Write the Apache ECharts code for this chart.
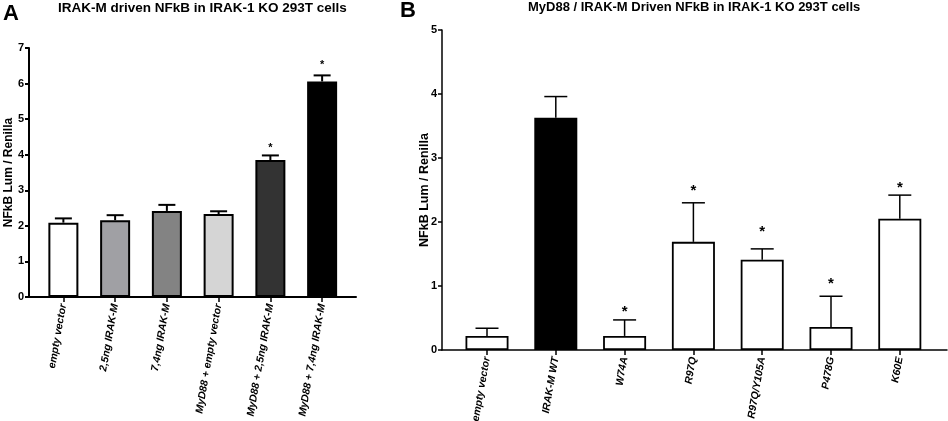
<!DOCTYPE html>
<html><head><meta charset="utf-8">
<script src="https://cdn.jsdelivr.net/npm/echarts@6/dist/echarts.min.js"></script>
<style>html,body{margin:0;padding:0;background:#fff}#c{width:948px;height:421px}</style>
</head><body><div id="c"></div>
<script>
// Panel A data
const catsA = ['empty vector', '2,5ng IRAK-M', '7,4ng IRAK-M', 'MyD88 + empty vector', 'MyD88 + 2,5ng IRAK-M', 'MyD88 + 7,4ng IRAK-M'];
const meanA = [2.09, 2.16, 2.42, 2.33, 3.85, 6.06];
const errTopA = [2.21, 2.30, 2.59, 2.41, 3.98, 6.23];
const starA = [null, null, null, null, 4.25, 6.60];
const colorA = ['#ffffff', '#a0a0a4', '#838383', '#d5d5d5', '#333333', '#000000'];
const yMaxA = 7;
// Panel B data
const catsB = ['empty vector', 'IRAK-M WT', 'W74A', 'R97Q', 'R97Q/Y105A', 'P478G', 'K60E'];
const meanB = [0.22, 3.63, 0.22, 1.69, 1.41, 0.36, 2.05];
const errTopB = [0.34, 3.96, 0.47, 2.30, 1.58, 0.84, 2.42];
const starB = [null, null, 0.65, 2.54, 1.90, 1.09, 2.59];
const colorB = ['#ffffff', '#000000', '#ffffff', '#ffffff', '#ffffff', '#ffffff', '#ffffff'];
const yMaxB = 5;

const FF = 'Liberation Sans, Arial, Helvetica, sans-serif';
const chart = echarts.init(document.getElementById('c'));

function errRender(capHalf, lw, starFont) {
  return function (params, api) {
    const x = api.value(0);
    const p0 = api.coord([x, api.value(1)]);
    const p1 = api.coord([x, api.value(2)]);
    const children = [
      {type: 'line', shape: {x1: p0[0], y1: p0[1], x2: p1[0], y2: p1[1]}, style: {stroke: '#000', lineWidth: lw}},
      {type: 'line', shape: {x1: p1[0] - capHalf, y1: p1[1], x2: p1[0] + capHalf, y2: p1[1]}, style: {stroke: '#000', lineWidth: lw}}
    ];
    const s = api.value(3);
    if (s !== null && !isNaN(s)) {
      const ps = api.coord([x, s]);
      children.push({type: 'text', style: {text: '*', x: ps[0], y: ps[1] + starFont * 0.22, align: 'center', verticalAlign: 'middle', font: 'bold ' + starFont + 'px ' + FF, fill: '#000'}});
    }
    return {type: 'group', children: children};
  };
}

function frameX(gi, lw) {
  return {gridIndex: gi, type: 'value', min: 0, max: 1, axisLine: {show: true, lineStyle: {color: '#000', width: lw}}, axisTick: {show: false}, axisLabel: {show: false}, splitLine: {show: false}};
}
function catX(gi, cats, fs) {
  return {gridIndex: gi, type: 'category', data: cats, axisLine: {show: false},
    axisTick: {show: true, alignWithLabel: true, length: 5, lineStyle: {color: '#000', width: 1.5}},
    axisLabel: {rotate: 80, interval: 0, margin: 7, fontSize: fs, fontStyle: 'italic', fontWeight: 'bold', color: '#000', fontFamily: FF},
    splitLine: {show: false}};
}
function frameY(gi, max, lw, nameGap, nameFs) {
  return {gridIndex: gi, type: 'value', min: 0, max: max, interval: 1,
    name: 'NFkB Lum / Renilla', nameLocation: 'middle', nameGap: nameGap, nameMoveOverlap: false,
    nameTextStyle: {fontSize: nameFs, fontWeight: 'bold', color: '#000', fontFamily: FF},
    axisLine: {show: true, lineStyle: {color: '#000', width: lw}},
    axisTick: {show: true, length: 4, lineStyle: {color: '#000', width: lw}},
    axisLabel: {fontSize: 11, fontWeight: 'bold', color: '#000', margin: 5, fontFamily: FF},
    splitLine: {show: false}};
}
function hiddenY(gi, max) {
  return {gridIndex: gi, type: 'value', min: 0, max: max, show: false, splitLine: {show: false}};
}

chart.setOption({
  animation: false,
  backgroundColor: '#fff',
  title: [
    {text: 'A', left: -2, top: -2, textStyle: {fontSize: 22, fontWeight: 'bold', color: '#000', fontFamily: FF}},
    {text: 'IRAK-M driven NFkB in IRAK-1 KO 293T cells', left: 53, top: -4, textStyle: {fontSize: 13.5, fontWeight: 'bold', color: '#000', fontFamily: FF}},
    {text: 'B', left: 395, top: -5, textStyle: {fontSize: 22, fontWeight: 'bold', color: '#000', fontFamily: FF}},
    {text: 'MyD88 / IRAK-M Driven NFkB in IRAK-1 KO 293T cells', left: 523, top: -4, textStyle: {fontSize: 13, fontWeight: 'bold', color: '#000', fontFamily: FF}}
  ],
  grid: [
    {left: 29, top: 48, width: 327, height: 249, outerBoundsMode: 'none', containLabel: false},
    {left: 37.5, top: 48, width: 310.5, height: 249, outerBoundsMode: 'none', containLabel: false},
    {left: 442, top: 30, width: 505, height: 320, outerBoundsMode: 'none', containLabel: false},
    {left: 452.6, top: 30, width: 481.6, height: 320, outerBoundsMode: 'none', containLabel: false}
  ],
  xAxis: [frameX(0, 2), catX(1, catsA, 10.5), frameX(2, 1.5), catX(3, catsB, 10.5)],
  yAxis: [frameY(0, yMaxA, 2, 14, 12), hiddenY(1, yMaxA), frameY(2, yMaxB, 1.5, 11, 12.5), hiddenY(3, yMaxB)],
  series: [
    {type: 'bar', xAxisIndex: 1, yAxisIndex: 1, barWidth: 30,
      itemStyle: {borderColor: '#000', borderWidth: 2},
      data: meanA.map((v, i) => ({value: v, itemStyle: {color: colorA[i]}}))},
    {type: 'custom', xAxisIndex: 1, yAxisIndex: 1, renderItem: errRender(8.5, 2, 11), z: 5,
      data: meanA.map((v, i) => [i, v, errTopA[i], starA[i] === null ? NaN : starA[i]])},
    {type: 'bar', xAxisIndex: 3, yAxisIndex: 3, barWidth: 43,
      itemStyle: {borderColor: '#000', borderWidth: 1.8},
      data: meanB.map((v, i) => ({value: v, itemStyle: {color: colorB[i]}}))},
    {type: 'custom', xAxisIndex: 3, yAxisIndex: 3, renderItem: errRender(11.5, 1.5, 15), z: 5,
      data: meanB.map((v, i) => [i, v, errTopB[i], starB[i] === null ? NaN : starB[i]])}
  ]
});
</script></body></html>
